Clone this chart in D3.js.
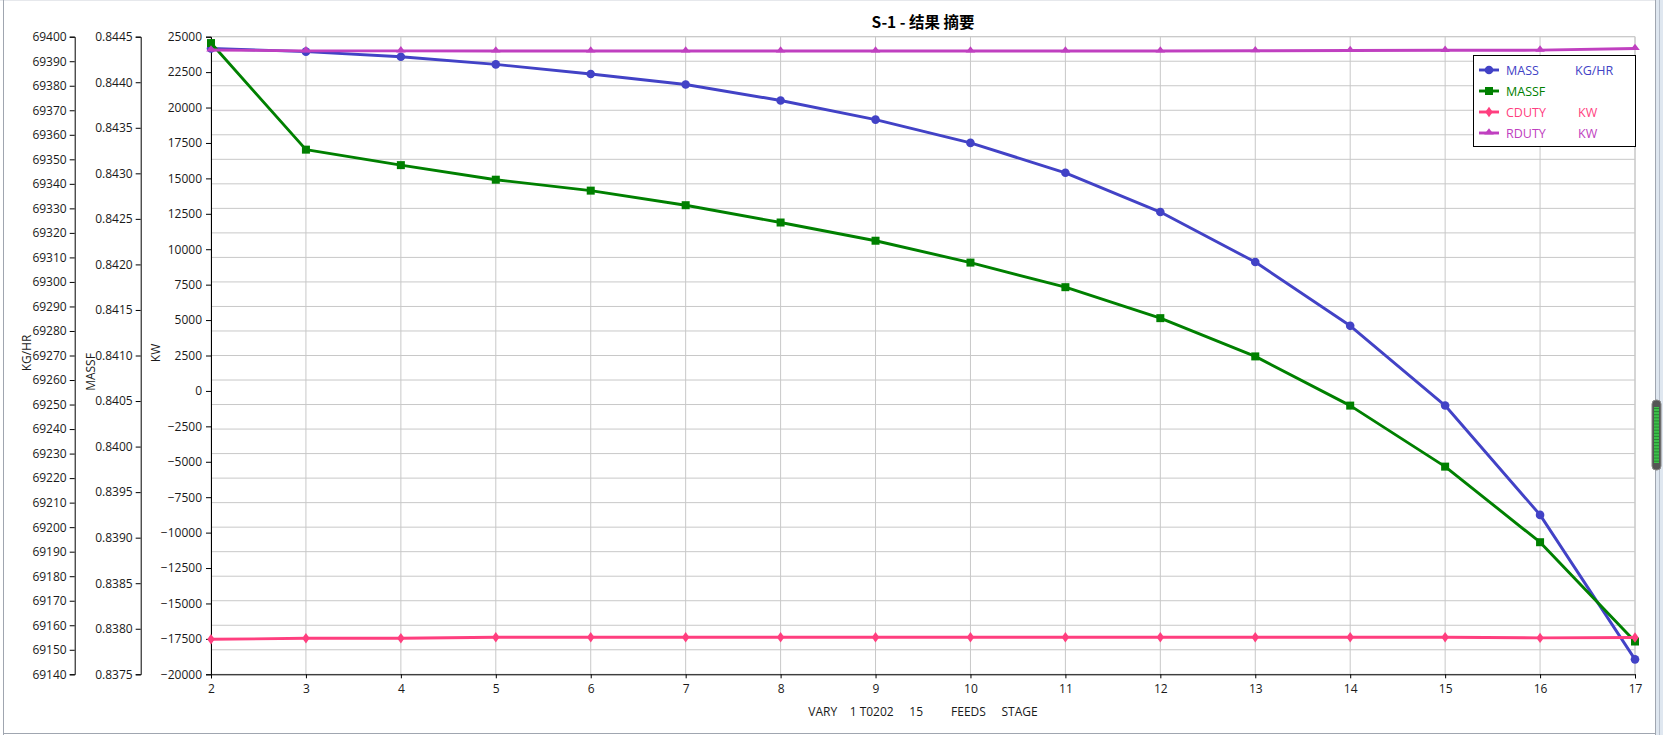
<!DOCTYPE html>
<html><head><meta charset="utf-8">
<script src="https://cdn.jsdelivr.net/npm/d3@7"></script>
<style>
html,body{margin:0;padding:0;background:#fff;}
svg{display:block;font-family:"Segoe UI","Open Sans","Noto Sans",sans-serif;}
</style></head>
<body>
<svg id="c" width="1663" height="735"></svg>
<script>
// ---- data ----
const stages = [2,3,4,5,6,7,8,9,10,11,12,13,14,15,16,17];
const massKGHR = [69395.2,69393.9,69391.8,69388.7,69384.8,69380.5,69374.0,69366.2,69356.7,69344.5,69328.5,69308.1,69282.1,69249.6,69205.0,69146.1];
const massF = [0.84443,0.84326,0.84309,0.84293,0.84281,0.84265,0.84246,0.84226,0.84202,0.84175,0.84141,0.84099,0.84045,0.83978,0.83895,0.83786];
const cduty = [-17530,-17460,-17460,-17380,-17380,-17380,-17380,-17380,-17380,-17380,-17380,-17380,-17380,-17380,-17430,-17400];
const rduty = [24060,24000,24000,23990,23990,23990,23990,23990,23990,23990,23990,24010,24030,24040,24050,24170];
const kwTicks = d3.range(-20000,25001,2500);
const kgTicks = d3.range(0,27).map(i=>69140+i*10);
const mfTicks = d3.range(0,15).map(i=>+(0.8375+i*0.0005).toFixed(4));
const titleText = "S-1 - 结果 摘要";
const xLabel = "VARY    1 T0202     15         FEEDS     STAGE";
const legendItems = [
  {name:"MASS", unit:"KG/HR"},
  {name:"MASSF", unit:""},
  {name:"CDUTY", unit:"KW"},
  {name:"RDUTY", unit:"KW"}
];

// ---- layout ----
const L=211, R=1635, T=36.7, B=674.3;
const svg = d3.select("#c");
const x = d3.scaleLinear().domain([2,17]).range([L,R]);
const yKW = d3.scaleLinear().domain([-20000,25000]).range([B,T]);
const yKG = d3.scaleLinear().domain([69140,69400]).range([B,T]);
const yMF = d3.scaleLinear().domain([0.8375,0.8445]).range([B,T]);

// window frame
svg.append("rect").attr("x",0).attr("y",0).attr("width",1663).attr("height",735).attr("fill","#fff");
svg.append("line").attr("x1",0).attr("x2",1663).attr("y1",0.5).attr("y2",0.5).attr("stroke","#e6e8ec");
svg.append("line").attr("x1",3.5).attr("x2",3.5).attr("y1",0).attr("y2",735).attr("stroke","#a0a6b0");
svg.append("line").attr("x1",3.5).attr("x2",1655).attr("y1",733.5).attr("y2",733.5).attr("stroke","#a0a6b0");
svg.append("rect").attr("x",1655).attr("y",0).attr("width",8).attr("height",735).attr("fill","#dfe7f0");
svg.append("line").attr("x1",1655.5).attr("x2",1655.5).attr("y1",0).attr("y2",735).attr("stroke","#a0a6b0");
svg.append("line").attr("x1",1659.5).attr("x2",1659.5).attr("y1",0).attr("y2",735).attr("stroke","#b8c0cc");
// scroll thumb
svg.append("rect").attr("x",1652).attr("y",400).attr("width",9).attr("height",70).attr("rx",4)
  .attr("fill","#555").attr("stroke","#888");
svg.append("rect").attr("x",1654).attr("y",407).attr("width",5).attr("height",56).attr("fill","#3cbf4a");
svg.append("g").selectAll("line").data(d3.range(0,18)).join("line")
  .attr("x1",1654).attr("x2",1659).attr("y1",d=>408.5+d*3.1).attr("y2",d=>408.5+d*3.1)
  .attr("stroke","#1f6f28").attr("stroke-width",0.7);

// grid
const grid = svg.append("g").attr("stroke","#c8c8c8").attr("stroke-width",1);
grid.selectAll(".gh").data(kgTicks).join("line")
  .attr("x1",L).attr("x2",R).attr("y1",d=>yKG(d)).attr("y2",d=>yKG(d));
grid.selectAll(".gv").data(stages).join("line")
  .attr("x1",d=>x(d)).attr("x2",d=>x(d)).attr("y1",T).attr("y2",B);
grid.append("line").attr("x1",L).attr("x2",R).attr("y1",T).attr("y2",T);
grid.append("line").attr("x1",R).attr("x2",R).attr("y1",T).attr("y2",B);

// axes
function styleAxis(g){
  g.selectAll("path,line").attr("stroke","#000");
  g.selectAll("text").attr("font-size","12px").attr("fill","#1a1a1a")
    .attr("font-family","'Segoe UI','Open Sans','Noto Sans',sans-serif");
}
svg.append("g").attr("transform",`translate(${L},0)`)
  .call(d3.axisLeft(yKW).tickValues(kwTicks).tickFormat(d3.format("d")).tickSizeOuter(0).tickSize(5).tickPadding(4))
  .call(styleAxis);
svg.append("g").attr("transform",`translate(140.7,0)`)
  .call(d3.axisLeft(yMF).tickValues(mfTicks).tickFormat(d3.format(".4f")).tickSizeOuter(0).tickSize(5).tickPadding(3))
  .call(styleAxis);
svg.append("g").attr("transform",`translate(74.7,0)`)
  .call(d3.axisLeft(yKG).tickValues(kgTicks).tickFormat(d3.format("d")).tickSizeOuter(0).tickSize(5).tickPadding(3))
  .call(styleAxis);
svg.append("g").attr("transform",`translate(0,${B})`)
  .call(d3.axisBottom(x).tickValues(stages).tickFormat(d3.format("d")).tickSizeOuter(0).tickSize(4).tickPadding(6))
  .call(styleAxis);

// axis titles
const atf = "'Segoe UI','Open Sans','Noto Sans',sans-serif";
svg.append("text").attr("transform","translate(31,353) rotate(-90)").attr("text-anchor","middle")
  .attr("font-size","12px").attr("font-family",atf).attr("fill","#1a1a1a").text("KG/HR");
svg.append("text").attr("transform","translate(94.5,372) rotate(-90)").attr("text-anchor","middle")
  .attr("font-size","12px").attr("font-family",atf).attr("fill","#1a1a1a").text("MASSF");
svg.append("text").attr("transform","translate(160,353) rotate(-90)").attr("text-anchor","middle")
  .attr("font-size","12px").attr("font-family",atf).attr("fill","#1a1a1a").text("KW");
svg.append("text").attr("x",(L+R)/2).attr("y",716).attr("text-anchor","middle")
  .attr("font-size","12px").attr("font-family",atf).attr("fill","#1a1a1a")
  .style("white-space","pre").text(xLabel);

// title
svg.append("text").attr("x",(L+R)/2).attr("y",28).attr("text-anchor","middle")
  .attr("font-size","15.5px").attr("font-weight","bold")
  .attr("font-family","'Segoe UI','Noto Sans CJK SC',sans-serif").attr("fill","#000").text(titleText);

// series
const series = [
  {key:0, vals:massKGHR, y:yKG, color:"#4242c6", marker:"circle"},
  {key:1, vals:massF, y:yMF, color:"#008000", marker:"square"},
  {key:2, vals:cduty, y:yKW, color:"#ff3f7f", marker:"diamond"},
  {key:3, vals:rduty, y:yKW, color:"#c040c0", marker:"triangle"}
];
function drawMarker(g, type, cx, cy, color){
  if(type==="circle") g.append("circle").attr("cx",cx).attr("cy",cy).attr("r",4.3).attr("fill",color);
  else if(type==="square") g.append("rect").attr("x",cx-4).attr("y",cy-4).attr("width",8).attr("height",8).attr("fill",color);
  else if(type==="diamond") g.append("path").attr("d",`M${cx},${cy-5.2}L${cx+3.7},${cy}L${cx},${cy+5.2}L${cx-3.7},${cy}Z`).attr("fill",color);
  else g.append("path").attr("d",`M${cx},${cy-4.8}L${cx+4.8},${cy+1.6}L${cx-4.8},${cy+1.6}Z`).attr("fill",color);
}
const line = (ys)=>d3.line().x((d,i)=>x(stages[i])).y(d=>ys(d));
series.forEach(s=>{
  const g = svg.append("g");
  g.append("path").datum(s.vals).attr("d",line(s.y)).attr("fill","none")
    .attr("stroke",s.color).attr("stroke-width",2.9).attr("stroke-linejoin","round");
  s.vals.forEach((v,i)=>drawMarker(g,s.marker,x(stages[i]),s.y(v),s.color));
});

// legend
const lg = svg.append("g");
lg.append("rect").attr("x",1473.5).attr("y",55.5).attr("width",162).attr("height",91)
  .attr("fill","#fff").attr("stroke","#000").attr("stroke-width",1);
legendItems.forEach((it,i)=>{
  const s = series[i];
  const cy = 70 + i*21;
  lg.append("line").attr("x1",1479).attr("x2",1499).attr("y1",cy).attr("y2",cy)
    .attr("stroke",s.color).attr("stroke-width",2.9);
  drawMarker(lg,s.marker,1489,cy,s.color);
  lg.append("text").attr("x",1506).attr("y",cy+4.5).attr("font-size","12.5px").attr("font-family",atf)
    .attr("fill",s.color).text(it.name);
  lg.append("text").attr("x",i===0?1575:1578).attr("y",cy+4.5).attr("font-size","12.5px").attr("font-family",atf)
    .attr("fill",s.color).text(it.unit);
});
</script>
</body></html>
